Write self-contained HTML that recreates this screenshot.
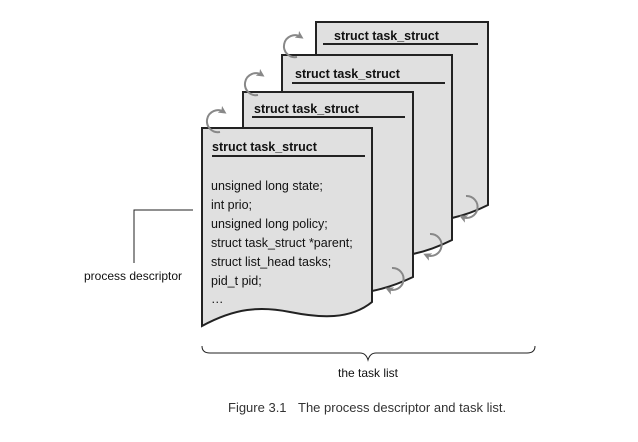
<!DOCTYPE html>
<html><head><style>body{margin:0;background:#fff}svg{display:block}</style></head>
<body>
<svg width="638" height="442" viewBox="0 0 638 442" xmlns="http://www.w3.org/2000/svg" font-family="Liberation Sans, sans-serif">
<defs><marker id="a" markerWidth="8" markerHeight="8" refX="5" refY="4" orient="auto" markerUnits="userSpaceOnUse"><path d="M0,0 L8,4 L0,8 L2,4 Z" fill="#888"/></marker></defs>
<g fill="#e0e0e0" stroke="#222" stroke-width="2">
<path d="M316,22 H488 V205 Q470,214 452,218 L316,226 Z"/>
<path d="M282,55 H452 V240 Q432,250 413,254 L282,262 Z"/>
<path d="M243,92 H413 V277 Q392,287 372,291 L243,300 Z"/>
<path d="M202,128 H372 V302 C350,320 320,318 290,312 C260,306 235,308 202,326 Z"/>
</g>
<g stroke="#222" stroke-width="2">
<line x1="323" y1="44" x2="478" y2="44"/>
<line x1="292" y1="83" x2="445" y2="83"/>
<line x1="252" y1="117" x2="405" y2="117"/>
<line x1="212" y1="156" x2="365" y2="156"/>
</g>
<g font-weight="bold" font-size="12.5" fill="#111">
<text x="334" y="40">struct task_struct</text>
<text x="295" y="78">struct task_struct</text>
<text x="254" y="113">struct task_struct</text>
<text x="212" y="151">struct task_struct</text>
</g>
<g font-size="12.5" fill="#111">
<text x="211" y="190">unsigned long state;</text>
<text x="211" y="209">int prio;</text>
<text x="211" y="228">unsigned long policy;</text>
<text x="211" y="247">struct task_struct *parent;</text>
<text x="211" y="266">struct list_head tasks;</text>
<text x="211" y="285">pid_t pid;</text>
<text x="211" y="303">…</text>
</g>
<g fill="none" stroke="#888" stroke-width="2" marker-end="url(#a)">
<path d="M220,132 A11,11 0 1 1 224,112"/>
<path d="M258,95 A11,11 0 1 1 262,75"/>
<path d="M297,57 A11,11 0 1 1 301,37"/>
<path d="M392,268 A11,11 0 1 1 388,289"/>
<path d="M430,234 A11,11 0 1 1 426,255"/>
<path d="M466,196 A11,11 0 1 1 462,217"/>
</g>
<path d="M193,210 H134 V263" fill="none" stroke="#222" stroke-width="1"/>
<text x="84" y="280" font-size="12" fill="#111">process descriptor</text>
<path d="M202,346 Q202,353 210,353 H360 Q366,353 368,360 Q370,353 376,353 H527 Q535,353 535,346" fill="none" stroke="#222" stroke-width="1"/>
<text x="368" y="377" font-size="12" fill="#111" text-anchor="middle">the task list</text>
<text x="228" y="412" font-size="13" fill="#333">Figure 3.1</text>
<text x="298" y="412" font-size="13" fill="#333">The process descriptor and task list.</text>
</svg>
</body></html>
